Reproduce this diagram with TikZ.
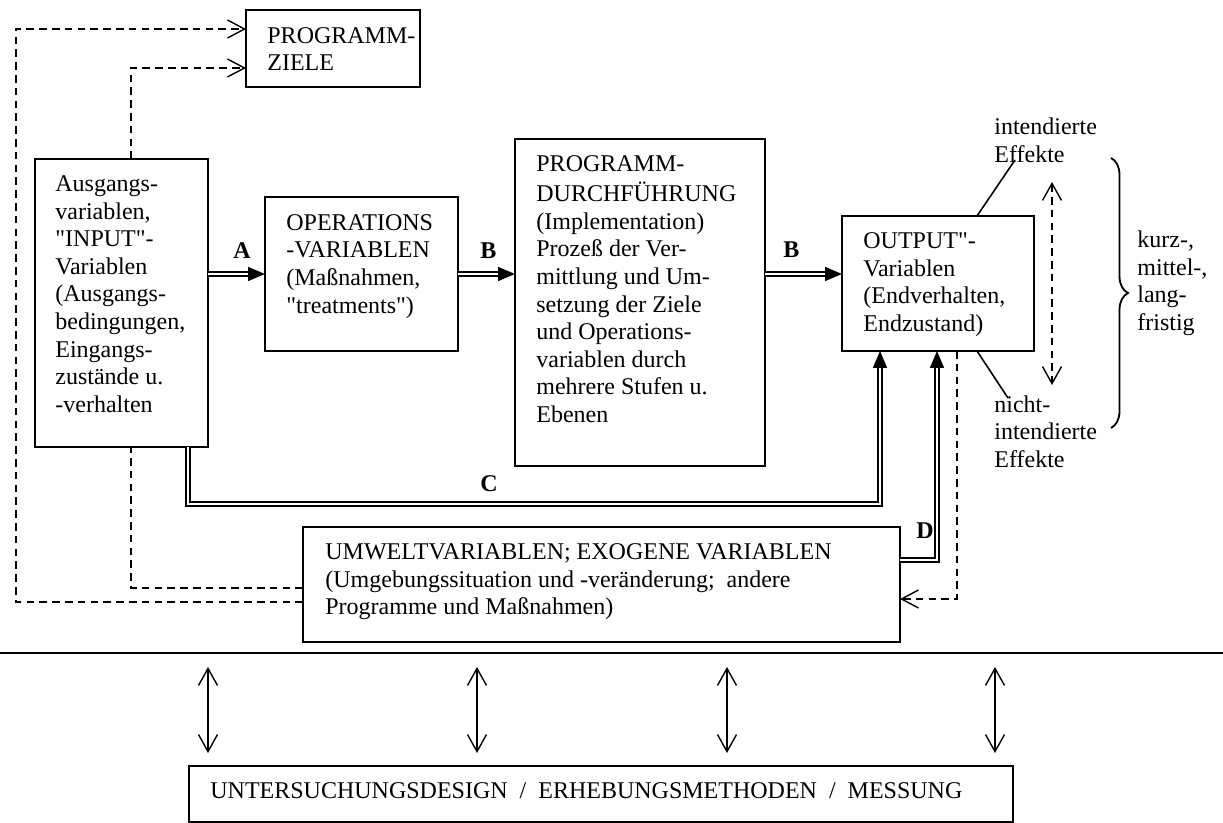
\documentclass[tikz,border=0pt]{standalone}
\usepackage{fontspec}
\setmainfont{Liberation Serif}
\usetikzlibrary{arrows.meta,decorations.pathreplacing}
\begin{document}
\begin{tikzpicture}[x=0.5pt,y=-0.5pt,
  box/.style={draw,line width=0.9pt,inner sep=0pt,outer sep=0pt,anchor=north west},
  txt/.style={inner sep=0pt,anchor=north west,align=left,font=\fontsize{12}{13.8}\selectfont},
  lbl/.style={inner sep=0pt,anchor=base west,font=\fontsize{12}{13.8}\selectfont\bfseries},
  dbl/.style={double,line width=0.8pt,double distance=1.1pt,-{Triangle[length=8.5pt,width=7pt]}},
  dsh/.style={line width=0.7pt,dash pattern=on 3.8pt off 2.6pt},
  barb/.style={line width=0.7pt,-{Straight Barb[length=8.5pt,width=9pt]}},
  barbb/.style={line width=0.7pt,{Straight Barb[length=8.5pt,width=9.5pt]}-{Straight Barb[length=8.5pt,width=9.5pt]}}
]
\useasboundingbox (0,0) rectangle (1223,823);

% boxes
\node[box,minimum width=87pt,minimum height=38.5pt] (ziele) at (246,10) {};
\node[box,minimum width=86.5pt,minimum height=144pt] (aus) at (35,159) {};
\node[box,minimum width=96.5pt,minimum height=77pt] (ops) at (265,197) {};
\node[box,minimum width=125pt,minimum height=163.5pt] (prog) at (515,139) {};
\node[box,minimum width=96pt,minimum height=67.5pt] (outp) at (842,216) {};
\node[box,minimum width=298.5pt,minimum height=57.5pt] (umw) at (303,527) {};
\node[box,minimum width=412pt,minimum height=28pt] (unter) at (189,766) {};

% box texts
\node[txt] (tziele) at (267,23.5) {\strut PROGRAMM-\\ZIELE};
\node[txt] (taus) at (55,171.7) {\strut Ausgangs-\\variablen,\\\textquotedbl INPUT\textquotedbl -\\Variablen\\(Ausgangs-\\bedingungen,\\Eingangs-\\zustände u.\\-verhalten};
\node[txt] (tops) at (286,210.5) {\strut OPERATIONS\\-VARIABLEN\\(Maßnahmen,\\\textquotedbl treatments\textquotedbl )};
\node[txt] (tprog) at (536,152.2) {\strut PROGRAMM-\\DURCHFÜHRUNG\\(Implementation)\\Prozeß der Ver-\\mittlung und Um-\\setzung der Ziele\\und Operations-\\variablen durch\\mehrere Stufen u.\\Ebenen};
\node[txt] (toutp) at (863,228.7) {\strut OUTPUT\textquotedbl -\\Variablen\\(Endverhalten,\\Endzustand)};
\node[txt] (tumw) at (325,539.7) {\strut UMWELTVARIABLEN; EXOGENE VARIABLEN\\(Umgebungssituation und -veränderung;\ \ andere\\Programme und Maßnahmen)};
\node[txt] (tunter) at (210,778.7) {\strut UNTERSUCHUNGSDESIGN\ \ /\ \ ERHEBUNGSMETHODEN\ \ /\ \ MESSUNG};

% side texts
\node[txt] (tint) at (994,114.7) {\strut intendierte\\Effekte};
\node[txt] (tnint) at (994,392.4) {\strut nicht-\\intendierte\\Effekte};
\node[txt] (tfrist) at (1137,227.7) {\strut kurz-,\\mittel-,\\lang-\\fristig};

% labels
\node[lbl] (lA) at (233,259) {A};
\node[lbl] (lB1) at (480,259) {B};
\node[lbl] (lB2) at (783,258) {B};
\node[lbl] (lC) at (480,492) {C};
\node[lbl] (lD) at (916,539) {D};

% coordinates
\coordinate (yB) at (0,274);
\coordinate (cC1) at (188,504);
\coordinate (cC2) at (880,504);
\coordinate (cD) at (937,560);
\coordinate (p1) at (16,602);
\coordinate (p2) at (16,29);
\coordinate (q1) at (131,588);
\coordinate (q2) at (131,68);
\coordinate (r1) at (957,599);
\coordinate (e1) at (1052,182);
\coordinate (e2) at (1052,385);
\coordinate (s0) at (977,0);
\coordinate (s1) at (1015,160);
\coordinate (s2) at (1008,398);
\coordinate (hl1) at (0,653);
\coordinate (hl2) at (1223,653);

% main flow (double arrows)
\draw[dbl] (aus.east |- ops.west) -- (ops.west);
\draw[dbl] (ops.east) -- (ops.east -| prog.west);
\draw[dbl] (prog.east |- yB) -- (outp.west |- yB);
\draw[dbl] (aus.south -| cC1) -- (cC1) -- (cC2) -- (outp.south -| cC2);
\draw[dbl] (umw.east |- cD) -- (cD) -- (outp.south -| cD);

% dashed feedback lines
\draw[dsh,barb] (umw.west |- p1) -- (p1) -- (p2) -- (ziele.west |- p2);
\draw[dsh] (umw.west |- q1) -- (q1) -- (aus.south -| q1);
\draw[dsh,barb] (aus.north -| q2) -- (q2) -- (ziele.west |- q2);
\draw[dsh,barb] (outp.south -| r1) -- (r1) -- (umw.east |- r1);
\draw[dsh,barbb] (e1) -- (e2);

% effect lines
\draw[line width=0.8pt] (outp.north -| s0) -- (s1);
\draw[line width=0.8pt] (outp.south -| s0) -- (s2);

% brace
\draw[line width=0.9pt,decorate,decoration={brace,amplitude=8.5pt}] (1111,158) -- (1111,428);

% separator
\draw[line width=1.2pt] (hl1) -- (hl2);

% measurement arrows
\foreach \xx/\nm in {208/m1,477/m2,727/m3,995/m4}{
  \coordinate (\nm a) at (\xx,667);
  \coordinate (\nm b) at (\xx,753);
  \draw[barbb] (\nm a) -- (\nm b);
}
\end{tikzpicture}
\end{document}
